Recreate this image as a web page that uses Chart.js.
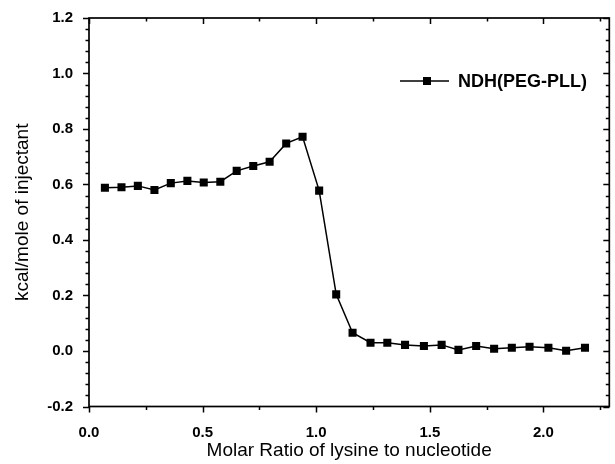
<!DOCTYPE html>
<html>
<head>
<meta charset="utf-8">
<script src="https://cdn.jsdelivr.net/npm/chart.js@4/dist/chart.umd.min.js"></script>
<style>
html,body{margin:0;padding:0;background:#fff;}
#wrap{width:615px;height:464px;position:relative;}
</style>
</head>
<body>
<div id="wrap"><canvas id="c" width="615" height="464"></canvas></div>
<script>
// ---- data ----
const seriesName = "NDH(PEG-PLL)";
const molarRatio = [0.07,0.143,0.215,0.288,0.36,0.433,0.505,0.578,0.65,0.723,0.795,0.868,0.94,
  1.013,1.088,1.16,1.239,1.313,1.391,1.474,1.552,1.626,1.704,1.783,1.861,1.939,2.022,2.1,2.183];
const heat = [0.588,0.590,0.595,0.580,0.605,0.613,0.607,0.610,0.649,0.667,0.682,0.748,0.772,
  0.578,0.204,0.066,0.030,0.030,0.022,0.018,0.022,0.004,0.018,0.008,0.012,0.015,0.012,0.001,0.012];
const xTicks = [0.0,0.5,1.0,1.5,2.0];
const yTicks = [-0.2,0.0,0.2,0.4,0.6,0.8,1.0,1.2];
const xTitle = "Molar Ratio of lysine to nucleotide";
const yTitle = "kcal/mole of injectant";

const X_MIN = 0, X_MAX = 2.29, Y_MIN = -0.2, Y_MAX = 1.2;
const X_MINOR = 0.25, Y_MINOR = 0.04;

const points = molarRatio.map((x,i)=>({x:x,y:heat[i]}));
const FONT = '"Liberation Sans", Arial, sans-serif';

const framePlugin = {
  id:'frame',
  afterDraw(chart){
    const ctx = chart.ctx, a = chart.chartArea;
    const xs = chart.scales.x, ys = chart.scales.y;
    ctx.save();
    ctx.strokeStyle = '#000';
    ctx.lineWidth = 1.7;
    ctx.strokeRect(a.left, a.top, a.right-a.left, a.bottom-a.top);
    ctx.lineWidth = 1.5;
    ctx.beginPath();
    for (let k = 0; ; k++) {
      const v = X_MIN + k*X_MINOR;
      if (v > X_MAX + 1e-9) break;
      const L = (k % 2 === 0) ? 6 : 3.5;
      const px = Math.round(xs.getPixelForValue(v)) + 0.5;
      ctx.moveTo(px, a.bottom); ctx.lineTo(px, a.bottom + L);
      ctx.moveTo(px, a.top); ctx.lineTo(px, a.top + L);
    }
    for (let k = 0; ; k++) {
      const v = Y_MIN + k*Y_MINOR;
      if (v > Y_MAX + 1e-9) break;
      const L = (k % 5 === 0) ? 6 : 3.5;
      const py = Math.round(ys.getPixelForValue(v)) + 0.5;
      ctx.moveTo(a.left, py); ctx.lineTo(a.left - L, py);
      ctx.moveTo(a.right, py); ctx.lineTo(a.right - L, py);
    }
    ctx.stroke();

    // legend
    const ly = 81, lx0 = 400, lx1 = 449, mx = 427;
    ctx.lineWidth = 1.5;
    ctx.beginPath(); ctx.moveTo(lx0, ly); ctx.lineTo(lx1, ly); ctx.stroke();
    ctx.fillStyle = '#000';
    ctx.fillRect(mx-4, ly-4, 8, 8);
    ctx.font = 'bold 18px ' + FONT;
    ctx.textBaseline = 'middle';
    ctx.textAlign = 'left';
    ctx.fillText(seriesName, 458, ly+1);
    ctx.restore();
  }
};

new Chart(document.getElementById('c'), {
  type:'scatter',
  data:{datasets:[{
    label: seriesName,
    data: points,
    showLine:true,
    borderColor:'#000',
    borderWidth:1.5,
    backgroundColor:'#000',
    pointStyle:'rect',
    pointRadius:5.7,
    pointHoverRadius:5.7,
    pointBorderWidth:0,
    tension:0
  }]},
  options:{
    responsive:false,
    animation:false,
    events:[],
    layout:{padding:{top:18,right:2,left:0,bottom:0}},
    plugins:{legend:{display:false},tooltip:{enabled:false}},
    scales:{
      x:{
        type:'linear', min:X_MIN, max:X_MAX,
        afterBuildTicks(s){ s.ticks = xTicks.map(v=>({value:v})); },
        afterFit(s){ s.height = 57.5; },
        grid:{display:false},
        border:{display:false},
        ticks:{
          autoSkip:false, maxRotation:0, padding:9,
          color:'#000',
          font:{family:FONT, size:15, weight:'bold'},
          callback:(v)=>v.toFixed(1)
        },
        title:{display:true,text:xTitle,color:'#000',
          font:{family:FONT, size:19},
          padding:{top:0,bottom:1.5}}
      },
      y:{
        type:'linear', min:Y_MIN, max:Y_MAX,
        afterBuildTicks(s){ s.ticks = yTicks.map(v=>({value:v})); },
        afterFit(s){ s.width = 89; },
        grid:{display:false},
        border:{display:false},
        ticks:{
          autoSkip:false, padding:8,
          color:'#000',
          font:{family:FONT, size:15, weight:'bold'},
          callback:(v)=>v.toFixed(1)
        },
        title:{display:true,text:yTitle,color:'#000',
          font:{family:FONT, size:19},
          padding:{top:11,bottom:0}}
      }
    }
  },
  plugins:[framePlugin]
});
</script>
</body>
</html>
